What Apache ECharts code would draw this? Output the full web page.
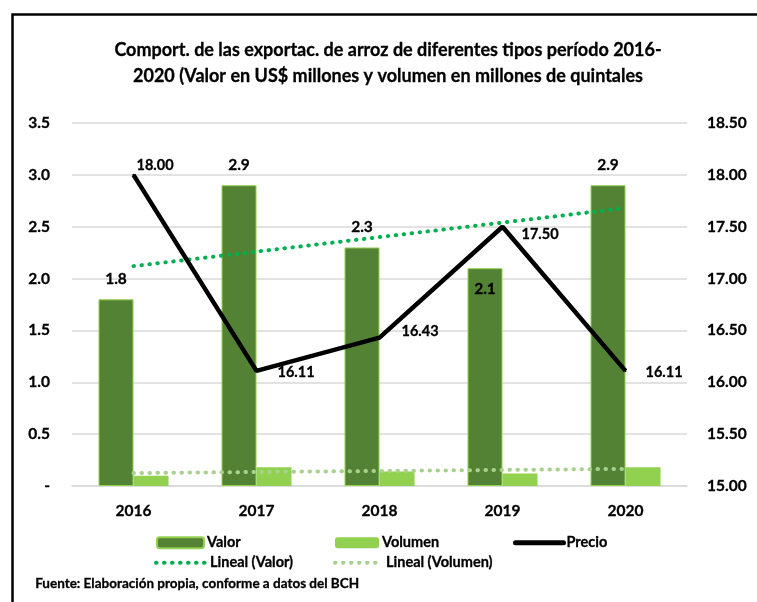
<!DOCTYPE html>
<html>
<head>
<meta charset="utf-8">
<script src="https://cdn.jsdelivr.net/npm/echarts@6/dist/echarts.min.js"></script>
<style>
  html, body { margin: 0; padding: 0; background: #fff; }
  #chart { width: 757px; height: 602px; }
</style>
</head>
<body>
<div id="chart"></div>
<script>
var years = ['2016', '2017', '2018', '2019', '2020'];
var valor = [1.8, 2.9, 2.3, 2.1, 2.9];
var volumen = [0.10, 0.18, 0.14, 0.12, 0.18];
var precio = [18.00, 16.11, 16.43, 17.50, 16.11];
var linealValor = [2.12, 2.26, 2.40, 2.54, 2.68];
var linealVolumen = [0.125, 0.135, 0.145, 0.155, 0.165];
// label placement of the price labels, as in the picture
var precioOffsets = [[2, -10], [20, 1], [21, -6], [18, 8], [19, 1]];

var FONT = 'Lato, "Open Sans", sans-serif';

var chart = echarts.init(document.getElementById('chart'));

var valorData = [];
for (var i = 0; i < valor.length; i++) {
    var item = { value: valor[i] };
    if (years[i] === '2019') {
        item.label = { position: 'insideTop', distance: 13 };
    }
    valorData.push(item);
}

var precioData = [];
for (var j = 0; j < precio.length; j++) {
    precioData.push({ value: precio[j], label: { offset: precioOffsets[j] } });
}

function oneLegend(name, left, top, w, h, lineStyle) {
    var lg = {
        data: [name],
        left: left,
        top: top,
        itemWidth: w,
        itemHeight: h,
        itemGap: 0,
        padding: 0,
        textStyle: {
            fontFamily: FONT, fontWeight: 'bold', fontSize: 14.5, color: '#000',
            textBorderColor: '#000', textBorderWidth: 0.3, padding: [0, 0, 0, -2]
        }
    };
    if (lineStyle) {
        lg.itemStyle = { opacity: 0 };
        lg.lineStyle = lineStyle;
    }
    return lg;
}

var txt = { fontFamily: FONT, fontWeight: 'bold', color: '#000', textBorderColor: '#000', textBorderWidth: 0.3 };

chart.setOption({
    animation: false,
    title: {
        text: 'Comport. de las exportac. de arroz de diferentes tipos período 2016-\n2020 (Valor en US$ millones y volumen en millones de quintales',
        left: 383,
        textAlign: 'center',
        top: 32,
        textStyle: { fontFamily: FONT, fontWeight: 'bold', fontSize: 18, lineHeight: 26, color: '#000', textBorderColor: '#000', textBorderWidth: 0.3 }
    },
    legend: [
        oneLegend('Valor', 156, 535, 47, 11),
        oneLegend('Volumen', 335, 535, 44, 11),
        oneLegend('Precio', 513, 535, 48, 11, { color: '#000', width: 5, cap: 'round' }),
        oneLegend('Lineal (Valor)', 154, 555, 51, 11, { color: '#00b050', width: 4, type: [0.5, 7.5], cap: 'round' }),
        oneLegend('Lineal (Volumen)', 333, 555, 48, 11, { color: '#a9d18e', width: 4, type: [0.5, 7.5], cap: 'round' })
    ],
    grid: { left: 72, right: 70, top: 123, bottom: 116 },
    xAxis: {
        type: 'category',
        data: years,
        axisTick: { show: false },
        axisLine: { lineStyle: { color: '#d9d9d9', width: 1.5 } },
        axisLabel: Object.assign({ margin: 17, fontSize: 15.5 }, txt)
    },
    yAxis: [
        {
            type: 'value', min: 0, max: 3.5, interval: 0.5,
            splitLine: { lineStyle: { color: '#d9d9d9', width: 1.5 } },
            axisLabel: Object.assign({
                margin: 22, fontSize: 15.5,
                formatter: function (v) { return v === 0 ? '-' : v.toFixed(1); }
            }, txt)
        },
        {
            type: 'value', min: 15, max: 18.5, interval: 0.5,
            splitLine: { show: false },
            axisLabel: Object.assign({
                margin: 20, fontSize: 15.5,
                formatter: function (v) { return v.toFixed(2); }
            }, txt)
        }
    ],
    series: [
        {
            name: 'Valor', type: 'bar', data: valorData,
            barWidth: 35, barGap: '0%',
            itemStyle: { color: '#548235', borderColor: '#92d050', borderWidth: 1 },
            label: Object.assign({
                show: true, position: 'top', distance: 12, fontSize: 15.5,
                formatter: function (p) { return p.value.toFixed(1); }
            }, txt)
        },
        {
            name: 'Volumen', type: 'bar', data: volumen,
            barWidth: 35,
            itemStyle: { color: '#92d050' }
        },
        {
            name: 'Lineal (Valor)', type: 'line', data: linealValor,
            symbol: 'none', z: 3,
            lineStyle: { color: '#00b050', width: 4, type: [0.5, 7.5], cap: 'round' },
            itemStyle: { color: '#00b050' }
        },
        {
            name: 'Lineal (Volumen)', type: 'line', data: linealVolumen,
            symbol: 'none', z: 3,
            lineStyle: { color: '#a9d18e', width: 4, type: [0.5, 7.5], cap: 'round' },
            itemStyle: { color: '#a9d18e' }
        },
        {
            name: 'Precio', type: 'line', yAxisIndex: 1, data: precioData,
            symbol: 'circle', symbolSize: 2, z: 4,
            lineStyle: { color: '#000', width: 4.5 },
            itemStyle: { color: '#000' },
            label: Object.assign({
                show: true, position: 'right', distance: 0, fontSize: 14.5,
                formatter: function (p) { return p.value.toFixed(2); }
            }, txt)
        }
    ],
    graphic: [
        {
            type: 'rect', left: 10, top: 12, silent: true, z: -1,
            shape: { width: 760, height: 600 },
            style: { fill: null, stroke: '#000', lineWidth: 2.5 }
        },
        {
            type: 'text', left: 35, top: 576,
            style: {
                text: 'Fuente: Elaboración propia, conforme a datos del BCH',
                fontFamily: FONT, fontWeight: 'bold', fontSize: 13.5, fill: '#000',
                stroke: '#000', lineWidth: 0.3
            }
        }
    ]
});
</script>
</body>
</html>
